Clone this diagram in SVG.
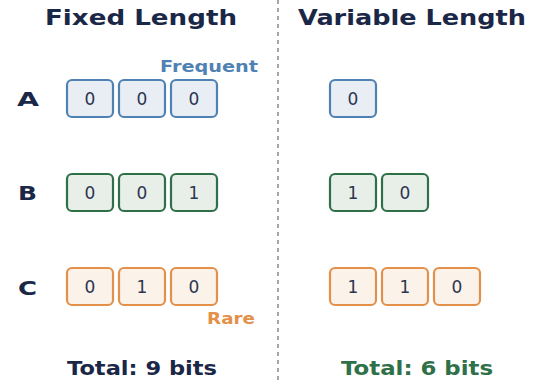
<svg xmlns="http://www.w3.org/2000/svg" width="533" height="380" viewBox="0 0 533 380">
<style>
text{font-family:"DejaVu Sans","Noto Sans",sans-serif}
.title{font-size:22px;font-weight:bold;fill:#1b2747;text-anchor:middle}
.lbl{font-size:19.5px;font-weight:bold;fill:#1b2747}
.bit{font-size:17px;fill:#2d3550;text-anchor:middle}
.bA{fill:#e9eef4;stroke:#4f82b3;stroke-width:2.2}
.bB{fill:#e8efe9;stroke:#2f7048;stroke-width:2.2}
.bC{fill:#fbf2ea;stroke:#e3914a;stroke-width:2.2}
.tot{font-size:19px;font-weight:bold;text-anchor:middle}
.ann{font-size:15px;font-weight:bold;text-anchor:end}
</style>
<rect width="533" height="380" fill="#ffffff"/>
<g id="divider"><line x1="278" y1="0" x2="278" y2="380" stroke="#777" stroke-width="1.3" stroke-dasharray="4,4"/></g>
<g id="titles">
<text class="title" x="141" y="25" textLength="192" lengthAdjust="spacingAndGlyphs">Fixed Length</text>
<text class="title" x="412" y="25" textLength="228" lengthAdjust="spacingAndGlyphs">Variable Length</text>
</g>
<g id="row-labels">
<text class="lbl" x="17" y="106" textLength="22" lengthAdjust="spacingAndGlyphs">A</text>
<text class="lbl" x="18" y="200" textLength="19" lengthAdjust="spacingAndGlyphs">B</text>
<text class="lbl" x="18" y="295" textLength="19" lengthAdjust="spacingAndGlyphs">C</text>
</g>
<g id="fixed-A">
<rect class="bA" x="67" y="80" width="46" height="37" rx="5"/><text class="bit" x="90" y="105">0</text>
<rect class="bA" x="119" y="80" width="46" height="37" rx="5"/><text class="bit" x="142" y="105">0</text>
<rect class="bA" x="171" y="80" width="46" height="37" rx="5"/><text class="bit" x="194" y="105">0</text>
</g>
<g id="fixed-B">
<rect class="bB" x="67" y="174" width="46" height="37" rx="5"/><text class="bit" x="90" y="199">0</text>
<rect class="bB" x="119" y="174" width="46" height="37" rx="5"/><text class="bit" x="142" y="199">0</text>
<rect class="bB" x="171" y="174" width="46" height="37" rx="5"/><text class="bit" x="194" y="199">1</text>
</g>
<g id="fixed-C">
<rect class="bC" x="67" y="268" width="46" height="37" rx="5"/><text class="bit" x="90" y="293">0</text>
<rect class="bC" x="119" y="268" width="46" height="37" rx="5"/><text class="bit" x="142" y="293">1</text>
<rect class="bC" x="171" y="268" width="46" height="37" rx="5"/><text class="bit" x="194" y="293">0</text>
</g>
<g id="var-A">
<rect class="bA" x="330" y="80" width="46" height="37" rx="5"/><text class="bit" x="353" y="105">0</text>
</g>
<g id="var-B">
<rect class="bB" x="330" y="174" width="46" height="37" rx="5"/><text class="bit" x="353" y="199">1</text>
<rect class="bB" x="382" y="174" width="46" height="37" rx="5"/><text class="bit" x="405" y="199">0</text>
</g>
<g id="var-C">
<rect class="bC" x="330" y="268" width="46" height="37" rx="5"/><text class="bit" x="353" y="293">1</text>
<rect class="bC" x="382" y="268" width="46" height="37" rx="5"/><text class="bit" x="405" y="293">1</text>
<rect class="bC" x="434" y="268" width="46" height="37" rx="5"/><text class="bit" x="457" y="293">0</text>
</g>
<g id="annotations">
<text class="ann" x="258" y="72" fill="#4f82b3" textLength="98" lengthAdjust="spacingAndGlyphs">Frequent</text>
<text class="ann" x="255" y="324" fill="#e3914a" textLength="48" lengthAdjust="spacingAndGlyphs">Rare</text>
</g>
<g id="totals">
<text class="tot" x="142" y="375" fill="#1b2747" textLength="150" lengthAdjust="spacingAndGlyphs">Total: 9 bits</text>
<text class="tot" x="417" y="375" fill="#2f7048" textLength="152" lengthAdjust="spacingAndGlyphs">Total: 6 bits</text>
</g>
</svg>
